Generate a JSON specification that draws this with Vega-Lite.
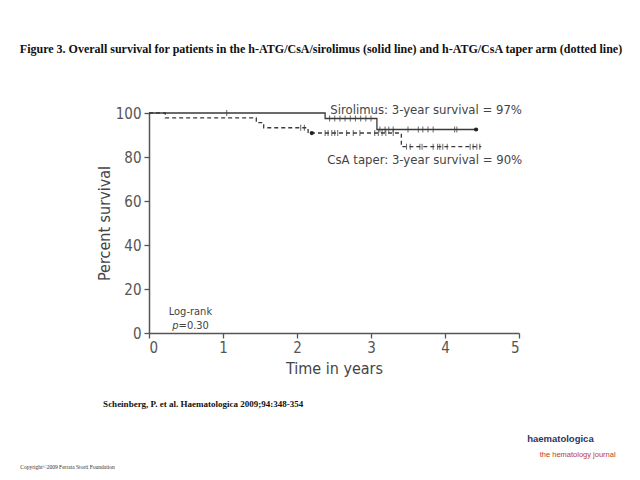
{
  "$schema": "https://vega.github.io/schema/vega-lite/v6.json",
  "autosize": "none",
  "width": 370,
  "height": 220,
  "padding": {"left": 149, "top": 113, "right": 121, "bottom": 147},
  "background": "white",
  "config": {"view": {"stroke": null}},
  "title": {
    "text": "Figure 3. Overall survival for patients in the h-ATG/CsA/sirolimus (solid line) and h-ATG/CsA taper arm (dotted line)",
    "anchor": "middle",
    "frame": "group",
    "dx": -13,
    "offset": 48,
    "font": "Liberation Serif",
    "fontSize": 12,
    "fontWeight": "bold",
    "color": "#111"
  },
  "datasets": {
    "curves": [
      {"arm": "Sirolimus", "t": 0, "s": 100},
      {"arm": "Sirolimus", "t": 2.38, "s": 97.5},
      {"arm": "Sirolimus", "t": 3.08, "s": 92.5},
      {"arm": "Sirolimus", "t": 4.42, "s": 92.5},
      {"arm": "CsA taper", "t": 0, "s": 100},
      {"arm": "CsA taper", "t": 0.22, "s": 97.8},
      {"arm": "CsA taper", "t": 1.45, "s": 95.6},
      {"arm": "CsA taper", "t": 1.55, "s": 93.3},
      {"arm": "CsA taper", "t": 2.15, "s": 90.9},
      {"arm": "CsA taper", "t": 3.41, "s": 84.7},
      {"arm": "CsA taper", "t": 4.49, "s": 84.7}
    ],
    "censors": [
      {"arm": "Sirolimus", "t": 1.05, "s": 100},
      {"arm": "Sirolimus", "t": 2.44, "s": 97.5},
      {"arm": "Sirolimus", "t": 2.51, "s": 97.5},
      {"arm": "Sirolimus", "t": 2.58, "s": 97.5},
      {"arm": "Sirolimus", "t": 2.65, "s": 97.5},
      {"arm": "Sirolimus", "t": 2.72, "s": 97.5},
      {"arm": "Sirolimus", "t": 2.79, "s": 97.5},
      {"arm": "Sirolimus", "t": 2.86, "s": 97.5},
      {"arm": "Sirolimus", "t": 2.93, "s": 97.5},
      {"arm": "Sirolimus", "t": 3.0, "s": 97.5},
      {"arm": "Sirolimus", "t": 3.12, "s": 92.5},
      {"arm": "Sirolimus", "t": 3.19, "s": 92.5},
      {"arm": "Sirolimus", "t": 3.24, "s": 92.5},
      {"arm": "Sirolimus", "t": 3.3, "s": 92.5},
      {"arm": "Sirolimus", "t": 3.5, "s": 92.5},
      {"arm": "Sirolimus", "t": 3.64, "s": 92.5},
      {"arm": "Sirolimus", "t": 3.7, "s": 92.5},
      {"arm": "Sirolimus", "t": 3.77, "s": 92.5},
      {"arm": "Sirolimus", "t": 3.84, "s": 92.5},
      {"arm": "Sirolimus", "t": 4.13, "s": 92.5},
      {"arm": "Sirolimus", "t": 4.16, "s": 92.5},
      {"arm": "CsA taper", "t": 2.05, "s": 93.3},
      {"arm": "CsA taper", "t": 2.1, "s": 93.3},
      {"arm": "CsA taper", "t": 2.38, "s": 90.9},
      {"arm": "CsA taper", "t": 2.42, "s": 90.9},
      {"arm": "CsA taper", "t": 2.47, "s": 90.9},
      {"arm": "CsA taper", "t": 2.51, "s": 90.9},
      {"arm": "CsA taper", "t": 2.55, "s": 90.9},
      {"arm": "CsA taper", "t": 2.67, "s": 90.9},
      {"arm": "CsA taper", "t": 2.76, "s": 90.9},
      {"arm": "CsA taper", "t": 2.85, "s": 90.9},
      {"arm": "CsA taper", "t": 3.05, "s": 90.9},
      {"arm": "CsA taper", "t": 3.1, "s": 90.9},
      {"arm": "CsA taper", "t": 3.15, "s": 90.9},
      {"arm": "CsA taper", "t": 3.2, "s": 90.9},
      {"arm": "CsA taper", "t": 3.3, "s": 90.9},
      {"arm": "CsA taper", "t": 3.48, "s": 84.7},
      {"arm": "CsA taper", "t": 3.53, "s": 84.7},
      {"arm": "CsA taper", "t": 3.66, "s": 84.7},
      {"arm": "CsA taper", "t": 3.69, "s": 84.7},
      {"arm": "CsA taper", "t": 3.84, "s": 84.7},
      {"arm": "CsA taper", "t": 3.9, "s": 84.7},
      {"arm": "CsA taper", "t": 3.93, "s": 84.7},
      {"arm": "CsA taper", "t": 3.97, "s": 84.7},
      {"arm": "CsA taper", "t": 4.03, "s": 84.7},
      {"arm": "CsA taper", "t": 4.34, "s": 84.7},
      {"arm": "CsA taper", "t": 4.38, "s": 84.7},
      {"arm": "CsA taper", "t": 4.43, "s": 84.7},
      {"arm": "CsA taper", "t": 4.47, "s": 84.7}
    ],
    "dots": [
      {"arm": "Sirolimus", "t": 4.42, "s": 92.5},
      {"arm": "CsA taper", "t": 2.2, "s": 90.9}
    ],
    "labels": [
      {"label": "Sirolimus: 3-year survival = 97%", "t": 2.45, "s": 101.4},
      {"label": "CsA taper: 3-year survival = 90%", "t": 2.41, "s": 78.6}
    ],
    "logrank": [
      {"label": "Log-rank", "t": 0.56, "s": 9.6}
    ],
    "pitalic": [
      {"label": "p", "t": 0.4, "s": 3.4}
    ],
    "pvalue": [
      {"label": "=0.30", "t": 0.4, "s": 3.4}
    ],
    "citation": [
      {"label": "Scheinberg, P. et al. Haematologica 2009;94:348-354", "t": -0.62, "s": -32.3}
    ],
    "copyright": [
      {"label": "Copyright©2009 Ferrata Storti Foundation", "t": -1.74, "s": -60.9}
    ],
    "logo1": [
      {"label": "haematologica", "t": 5.11, "s": -48.2}
    ],
    "logo2": [
      {"label": "the hematology journal", "t": 5.28, "s": -55.5}
    ]
  },
  "layer": [
    {
      "data": {"name": "curves"},
      "mark": {"type": "line", "interpolate": "step-after", "color": "#3a3a3a", "strokeWidth": 1.3},
      "encoding": {
        "x": {
          "field": "t", "type": "quantitative",
          "scale": {"domain": [0, 5], "nice": false},
          "axis": {
            "title": "Time in years",
            "values": [0, 1, 2, 3, 4, 5],
            "format": "d",
            "grid": false,
            "domainColor": "#555", "domainWidth": 1.5,
            "tickColor": "#555", "tickSize": 5, "tickWidth": 1.3,
            "labelFont": "DejaVu Sans Condensed", "labelFontSize": 15, "labelColor": "#555", "labelPadding": 2,
            "titleFont": "DejaVu Sans Condensed", "titleFontSize": 16, "titleFontWeight": "normal", "titleColor": "#444", "titlePadding": 5
          }
        },
        "y": {
          "field": "s", "type": "quantitative",
          "scale": {"domain": [0, 100], "nice": false},
          "axis": {
            "title": "Percent survival",
            "values": [0, 20, 40, 60, 80, 100],
            "format": "d",
            "grid": false,
            "domainColor": "#555", "domainWidth": 1.5,
            "tickColor": "#555", "tickSize": 5, "tickWidth": 1.3,
            "labelFont": "DejaVu Sans Condensed", "labelFontSize": 15, "labelColor": "#555", "labelPadding": 3,
            "titleFont": "DejaVu Sans Condensed", "titleFontSize": 16, "titleFontWeight": "normal", "titleColor": "#444", "titlePadding": 3
          }
        },
        "detail": {"field": "arm"},
        "strokeDash": {
          "field": "arm", "type": "nominal",
          "scale": {"domain": ["Sirolimus", "CsA taper"], "range": [[1, 0], [4, 3]]},
          "legend": null
        }
      }
    },
    {
      "data": {"name": "censors"},
      "mark": {"type": "tick", "orient": "vertical", "color": "#3a3a3a", "size": 6, "thickness": 1.1},
      "encoding": {
        "x": {"field": "t", "type": "quantitative"},
        "y": {"field": "s", "type": "quantitative"}
      }
    },
    {
      "data": {"name": "dots"},
      "mark": {"type": "point", "filled": true, "color": "#222", "size": 18, "opacity": 1},
      "encoding": {
        "x": {"field": "t", "type": "quantitative"},
        "y": {"field": "s", "type": "quantitative"}
      }
    },
    {
      "data": {"name": "labels"},
      "mark": {"type": "text", "align": "left", "baseline": "middle", "font": "DejaVu Sans Condensed", "fontSize": 13, "color": "#444"},
      "encoding": {
        "x": {"field": "t", "type": "quantitative"},
        "y": {"field": "s", "type": "quantitative"},
        "text": {"field": "label"}
      }
    },
    {
      "data": {"name": "logrank"},
      "mark": {"type": "text", "align": "center", "baseline": "middle", "font": "DejaVu Sans Condensed", "fontSize": 11, "color": "#444"},
      "encoding": {
        "x": {"field": "t", "type": "quantitative"},
        "y": {"field": "s", "type": "quantitative"},
        "text": {"field": "label"}
      }
    },
    {
      "data": {"name": "pitalic"},
      "mark": {"type": "text", "align": "right", "baseline": "middle", "font": "DejaVu Sans Condensed", "fontSize": 11, "fontStyle": "italic", "color": "#444"},
      "encoding": {
        "x": {"field": "t", "type": "quantitative"},
        "y": {"field": "s", "type": "quantitative"},
        "text": {"field": "label"}
      }
    },
    {
      "data": {"name": "pvalue"},
      "mark": {"type": "text", "align": "left", "baseline": "middle", "font": "DejaVu Sans Condensed", "fontSize": 11, "color": "#444"},
      "encoding": {
        "x": {"field": "t", "type": "quantitative"},
        "y": {"field": "s", "type": "quantitative"},
        "text": {"field": "label"}
      }
    },
    {
      "data": {"name": "citation"},
      "mark": {"type": "text", "align": "left", "baseline": "middle", "font": "Liberation Serif", "fontSize": 9, "fontWeight": "bold", "color": "#111"},
      "encoding": {
        "x": {"field": "t", "type": "quantitative"},
        "y": {"field": "s", "type": "quantitative"},
        "text": {"field": "label"}
      }
    },
    {
      "data": {"name": "copyright"},
      "mark": {"type": "text", "align": "left", "baseline": "middle", "font": "Liberation Serif", "fontSize": 5.5, "color": "#333"},
      "encoding": {
        "x": {"field": "t", "type": "quantitative"},
        "y": {"field": "s", "type": "quantitative"},
        "text": {"field": "label"}
      }
    },
    {
      "data": {"name": "logo1"},
      "mark": {"type": "text", "align": "left", "baseline": "middle", "font": "Liberation Sans", "fontSize": 9.5, "fontWeight": "bold", "color": "#2b3566"},
      "encoding": {
        "x": {"field": "t", "type": "quantitative"},
        "y": {"field": "s", "type": "quantitative"},
        "text": {"field": "label"}
      }
    },
    {
      "data": {"name": "logo2"},
      "mark": {"type": "text", "align": "left", "baseline": "middle", "font": "Liberation Sans", "fontSize": 7.5, "color": "#c0392b"},
      "encoding": {
        "x": {"field": "t", "type": "quantitative"},
        "y": {"field": "s", "type": "quantitative"},
        "text": {"field": "label"}
      }
    }
  ]
}
